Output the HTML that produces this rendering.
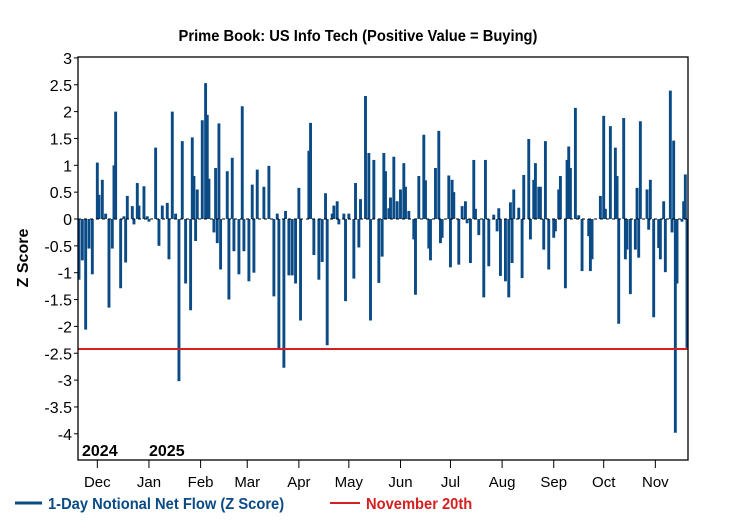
<!DOCTYPE html>
<html><head><meta charset="utf-8"><style>
body{margin:0;background:#fff;width:736px;height:532px;overflow:hidden}
svg{display:block;font-family:"Liberation Sans",sans-serif}
</style></head><body>
<svg id="chart" width="736" height="532" viewBox="0 0 736 532">
<text x="358" y="41" text-anchor="middle" font-size="16" font-weight="bold" transform="translate(358 0) scale(0.92 1) translate(-358 0)">Prime Book: US Info Tech (Positive Value = Buying)</text>
<g id="bars"></g>
<g id="axes"></g>
<g>
<line x1="15" y1="503" x2="42" y2="503" stroke="#0a4a85" stroke-width="3"/>
<text x="48" y="509" font-size="16" font-weight="bold" fill="#0a4a85" transform="translate(48 0) scale(0.92 1) translate(-48 0)">1-Day Notional Net Flow (Z Score)</text>
<line x1="330" y1="503" x2="360" y2="503" stroke="#d42020" stroke-width="2"/>
<text x="366" y="509" font-size="16" font-weight="bold" fill="#d42020" transform="translate(366 0) scale(0.92 1) translate(-366 0)">November 20th</text>
</g>
</svg>
<script>
const dayOffsets=[0,2,4,6,8,11,12,14,16,18,20,21,22,25,27,28,29,32,33,35,36,39,41,42,46,48,50,53,54,56,58,60,62,64,67,68,69,70,71,74,76,77,78,81,82,83,84,85,89,90,92,93,96,98,99,102,104,105,107,111,114,117,119,120,123,124,126,128,130,132,133,138,139,141,144,146,148,149,152,153,155,156,159,160,162,165,166,168,169,172,174,175,177,180,182,183,184,186,187,189,191,193,195,196,198,201,202,204,207,208,210,211,214,216,217,218,222,223,224,225,228,230,232,233,235,237,238,240,243,244,246,249,251,252,253,256,258,259,260,261,264,266,267,270,271,273,274,276,277,279,280,282,285,286,288,289,292,293,294,295,298,300,302,306,307,308,313,315,316,319,322,323,324,327,328,329,331,334,335,336,337,341,342,343,345,348,349,351,352,355,356,357,358,359,362,363,364,365];
const zScores=[-1.13,-0.77,-2.06,-0.55,-1.03,1.05,0.45,0.73,0.1,-1.65,-0.55,1.0,2.0,-1.29,0.05,-0.81,0.43,0.24,-0.1,0.67,0.25,0.61,0.05,-0.05,1.33,-0.5,0.25,0.3,-0.75,2.0,0.1,-3.02,1.45,-1.2,-1.7,1.52,0.8,-0.41,0.55,1.84,2.53,1.94,0.75,-0.25,0.95,-0.45,1.78,-0.94,0.89,-1.5,1.14,-0.6,-1.03,2.1,-0.6,-1.16,0.64,-1.0,0.92,0.6,0.99,-1.44,0.1,-2.43,-2.77,0.15,-1.05,-1.05,-1.2,0.58,-1.89,1.27,1.79,-0.67,-1.13,-0.8,0.48,-2.35,0.1,0.25,0.33,-0.1,0.1,-1.53,0.1,-1.11,0.67,-0.53,0.37,2.29,1.23,-1.89,1.1,-1.19,-0.7,1.23,0.89,0.2,0.4,1.16,0.33,0.55,1.04,0.6,0.15,-0.38,-1.41,0.8,1.57,0.72,-0.55,-0.77,0.95,1.64,-0.45,-0.35,0.81,-0.9,0.73,0.5,-0.85,0.24,0.33,-0.08,-0.82,1.1,0.19,-0.3,-1.46,1.1,-0.88,0.08,-0.23,0.2,-1.06,-1.16,-1.46,0.31,-0.82,0.55,0.21,-1.1,0.82,1.49,-0.38,0.73,1.04,0.6,0.6,-0.57,1.45,-0.94,-0.35,-0.23,0.55,0.8,-1.29,1.1,1.35,0.95,2.07,0.07,-0.97,-0.32,-0.97,-0.75,0.43,1.92,0.19,1.73,1.33,0.8,-1.95,1.88,-0.75,-0.57,-1.4,-0.57,0.58,-0.72,1.82,0.55,-0.2,0.73,-1.83,-0.54,-0.75,0.33,-0.99,2.39,-0.25,1.46,-3.98,-1.2,-0.05,0.33,0.83,-2.4];
const yTicks=[3,2.5,2,1.5,1,0.5,0,-0.5,-1,-1.5,-2,-2.5,-3,-3.5,-4];
const monthLabels=["Dec","Jan","Feb","Mar","Apr","May","Jun","Jul","Aug","Sep","Oct","Nov"];
const monthStartDays=[11,42,73,101,132,162,193,223,254,285,315,346];
const refLevel=-2.42;
const NS="http://www.w3.org/2000/svg";
const L=78,R=688,T=57,B=460;
const xS=d=>79+d*(R-1-79)/365;
const yS=v=>219-v*53.7;
function mk(tag,attrs,parent){const e=document.createElementNS(NS,tag);for(const k in attrs)e.setAttribute(k,attrs[k]);parent.appendChild(e);return e;}
const bars=document.getElementById('bars'),axes=document.getElementById('axes');
dayOffsets.forEach((d,i)=>{
 const b=mk('line',{x1:xS(d),x2:xS(d),y1:yS(0),y2:yS(zScores[i]),stroke:'#0a4a85','stroke-width':2.9},bars);
 
 
});
const z=mk('line',{x1:L,x2:R,y1:yS(0),y2:yS(0),stroke:'#000','stroke-width':1,'stroke-dasharray':'3,3'},axes);


const rl=mk('line',{x1:L,x2:R,y1:yS(refLevel),y2:yS(refLevel),stroke:'#d42020','stroke-width':2},axes);


const fr=mk('rect',{x:L,y:T,width:R-L,height:B-T,fill:'none',stroke:'#000','stroke-width':1.3},axes);


yTicks.forEach(v=>{
 const tk=mk('line',{x1:L-4,x2:L,y1:yS(v),y2:yS(v),stroke:'#000'},axes);
 
 
 const t=mk('text',{x:72,y:yS(v)+6,'text-anchor':'end','font-size':16,'font-weight':'500'},axes);
 t.textContent=String(v);
 
 
});
monthLabels.forEach((m,i)=>{
 const x=xS(monthStartDays[i]);
 const tk=mk('line',{x1:x,x2:x,y1:B,y2:B+8,stroke:'#000'},axes);
 
 
 const t=mk('text',{x:x,y:487,'text-anchor':'middle','font-size':15},axes);
 t.textContent=m;
 
 
});
[["2024",82],["2025",149]].forEach(([s,x])=>{
 const t=mk('text',{x:x,y:456,'font-size':16,'font-weight':'bold'},axes);
 t.textContent=s;
 
 
});
const yt=mk('text',{x:0,y:0,'font-size':16,'font-weight':'bold','text-anchor':'middle',transform:'translate(28 258) rotate(-90)'},axes);
yt.textContent='Z Score';


</script>
</body></html>
